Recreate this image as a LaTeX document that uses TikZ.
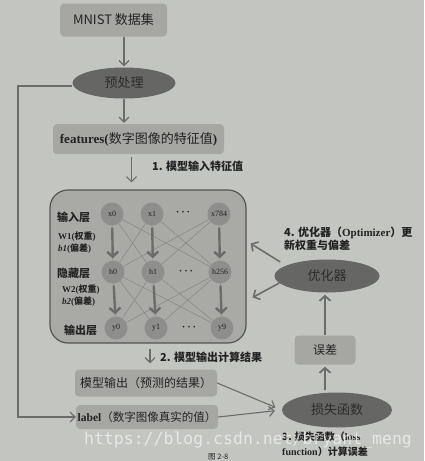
\documentclass[tikz,border=0pt]{standalone}
\usepackage{fontspec}
\setmainfont{Noto Sans CJK SC}
\newfontfamily\lat{Liberation Serif}
\newfontfamily\wmfont{DejaVu Sans Mono}
\usetikzlibrary{shapes.geometric,arrows.meta}
\newcommand{\fsz}[1]{\fontsize{#1pt}{#1pt}\selectfont}
\definecolor{bgc}{HTML}{C3C5C1}
\definecolor{boxc}{HTML}{A6A7A3}
\definecolor{ellc}{HTML}{666765}
\definecolor{elltxt}{HTML}{2C2C2C}
\definecolor{nnc}{HTML}{A9AAA6}
\definecolor{nnborder}{HTML}{545553}
\definecolor{neuc}{HTML}{8E8F8C}
\definecolor{arrc}{HTML}{6C6D6B}
\definecolor{thinc}{HTML}{858683}
\definecolor{txtc}{HTML}{232323}
\begin{document}
\begin{tikzpicture}[x=1pt,y=-1pt,
  box/.style={fill=boxc, rounded corners=4pt, inner sep=0pt, text=txtc},
  ell/.style={ellipse, fill=ellc, inner sep=0pt, text=elltxt},
  neu/.style={circle, fill=neuc, minimum size=23pt, inner sep=0pt, text=txtc, font=\lat\fsz{8}},
  dots/.style={inner sep=0pt, text=txtc, font=\lat\fsz{7}},
  arr/.style={draw=arrc, line width=1.1pt, -{Straight Barb[length=5pt,width=10pt]}},
  bigarr/.style={draw=arrc, line width=2.4pt, -{Straight Barb[length=5pt,width=11pt]}},
  thinline/.style={draw=thinc, line width=0.5pt},
  lbl/.style={text=txtc, font=\bfseries\fontsize{11pt}{13pt}\selectfont, inner sep=0pt},
  layer/.style={text=txtc, inner sep=0pt, anchor=west, font=\bfseries\fsz{11}},
  wt/.style={text=txtc, inner sep=0pt, anchor=west, align=left, font=\bfseries\fontsize{9pt}{12pt}\selectfont}
]
\fill[bgc] (0,0) rectangle (424,461);
\useasboundingbox (0,0) rectangle (424,461);

% top flow
\node[box, minimum width=107pt, minimum height=33pt, font=\fsz{13}] (mnist) at (113.5,20) {MNIST 数据集};
\node[ell, minimum width=103pt, minimum height=31pt, font=\fsz{13}] (pre) at (124,83) {预处理};
\node[box, minimum width=171pt, minimum height=30pt, font=\fsz{13}] (feat) at (138.5,139) {{\lat\bfseries features(}数字图像的特征值{\lat\bfseries )}};
\node[lbl, anchor=west] (l1) at (152,166) {1. 模型输入特征值};

% network box
\node[draw=nnborder, line width=1.2pt, fill=nnc, rounded corners=18pt, minimum width=196pt, minimum height=153pt] (nn) at (148,266.5) {};

\node[neu] (x0) at (112,214) {x0};
\node[neu] (x1) at (152,214) {x1};
\node[dots] (dx) at (183,213) {•\hspace{3pt}•\hspace{3pt}•};
\node[neu] (x784) at (219,214) {x784};
\node[neu] (h0) at (113,272) {h0};
\node[neu] (h1) at (153,272) {h1};
\node[dots] (dh) at (186,272) {•\hspace{3pt}•\hspace{3pt}•};
\node[neu] (h256) at (220,272) {h256};
\node[neu] (y0) at (116,328) {y0};
\node[neu] (y1) at (156,328) {y1};
\node[dots] (dy) at (189,328) {•\hspace{3pt}•\hspace{3pt}•};
\node[neu] (y9) at (222,328) {y9};

\foreach \a in {x0,x1,x784} \foreach \b in {h0,h1,h256} \draw[thinline] (\a) -- (\b);
\foreach \a in {h0,h1,h256} \foreach \b in {y0,y1,y9} \draw[thinline] (\a) -- (\b);
\draw[bigarr, shorten <=2pt, shorten >=2pt] (x0) -- (h0);
\draw[bigarr, shorten <=2pt, shorten >=2pt] (x1) -- (h1);
\draw[bigarr, shorten <=2pt, shorten >=2pt] (x784) -- (h256);
\draw[bigarr, shorten <=2pt, shorten >=2pt] (h0) -- (y0);
\draw[bigarr, shorten <=2pt, shorten >=2pt] (h1) -- (y1);
\draw[bigarr, shorten <=2pt, shorten >=2pt] (h256) -- (y9);

\node[layer] (in) at (57,217) {输入层};
\node[wt] (w1) at (58,243) {{\lat W1(}权重{\lat )}\\{\lat\itshape b1}{\lat (}偏差{\lat )}};
\node[layer] (hid) at (57,273) {隐藏层};
\node[wt] (w2) at (62,296) {{\lat W2(}权重{\lat )}\\{\lat\itshape b2}{\lat (}偏差{\lat )}};
\node[layer] (outl) at (64,330) {输出层};

% outputs
\node[lbl, anchor=west] (l2) at (160,357) {2. 模型输出计算结果};
\node[box, minimum width=142pt, minimum height=27pt, font=\fsz{12}] (out) at (146,383) {模型输出（预测的结果）};
\node[box, minimum width=142pt, minimum height=24pt, font=\fsz{11.5}] (lab) at (147,417) {{\lat\bfseries label}（数字图像真实的值）};

% right side
\node[ell, minimum width=105pt, minimum height=33pt, font=\fsz{13}] (opt) at (327,276) {优化器};
\node[lbl, anchor=west, align=left] (l4) at (284,239) {4. 优化器（{\lat Optimizer}）更\\新权重与偏差};
\node[box, minimum width=61pt, minimum height=29pt, font=\fsz{12}] (err) at (325,350) {误差};
\node[ell, minimum width=110pt, minimum height=35pt, font=\fsz{13}] (loss) at (337,410) {损失函数};
\node[lbl, anchor=west, align=left, font=\bfseries\fontsize{10pt}{15pt}\selectfont] (l3) at (282,444) {3. 损失函数（{\lat loss}\\{\lat function}）计算误差};

% connectors
\draw[arr, shorten >=1pt] (mnist.south -| pre.north) -- (pre.north);
\draw[arr, shorten >=1pt] (pre.south) -- (pre.south |- feat.north);
\draw[arr, shorten <=3pt, shorten >=7pt] ([xshift=-7pt]feat.south) -- ([xshift=-7pt]feat.south |- nn.north);
\draw[arr, shorten <=5pt, shorten >=6pt] ([xshift=2pt]nn.south) -- ([xshift=2pt]nn.south |- out.north);
\coordinate (fb) at (18,86);
\draw[arr] (pre.west |- fb) -- (fb) |- (lab.west);
\draw[arr, shorten >=7pt] (out.east) -- (loss.west);
\draw[arr, shorten >=7pt] (lab.east) -- (loss.west);
\draw[bigarr, line width=1.8pt, shorten <=2pt, shorten >=2pt] (err.south |- loss.north) -- (err.south);
\draw[bigarr, line width=1.8pt, shorten >=2pt] (err.north) -- (err.north |- opt.south);
\draw[bigarr, line width=1.6pt] ([shift={(6pt,14pt)}]opt.west) -- ([shift={(4pt,23pt)}]nn.east);
\draw[bigarr, line width=1.6pt] ([shift={(5pt,-7pt)}]opt.west) -- ([shift={(6pt,-31pt)}]nn.east);

% watermark and caption
\node[text=white, opacity=0.6, font=\wmfont\fsz{16.5}, inner sep=0pt] (wm) at (248,440) {https://blog.csdn.net/bryant\_meng};
\node[text=txtc, font=\fsz{7.5}, anchor=south west, inner sep=0pt] (cap) at (208,460.5) {图 2-8};
\end{tikzpicture}
\end{document}
